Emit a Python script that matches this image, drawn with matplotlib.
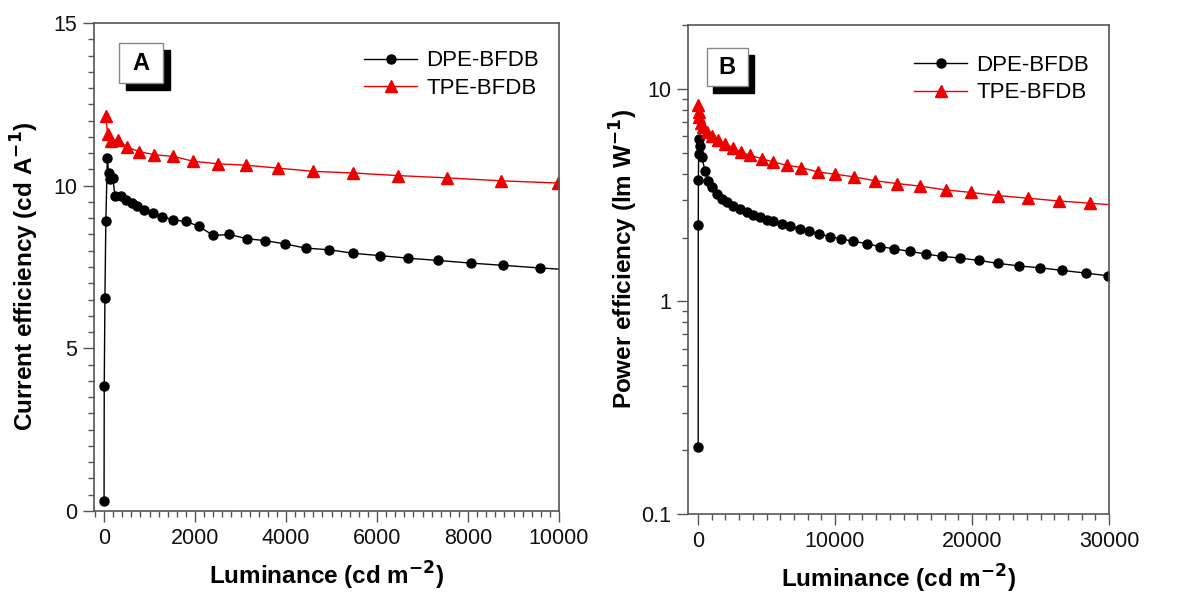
import numpy as np
import matplotlib
matplotlib.use("Agg")
import matplotlib.pyplot as plt
from matplotlib.patches import Rectangle
from matplotlib.ticker import MultipleLocator, LogLocator, FixedLocator

plt.rcParams['font.family'] = ['Liberation Sans', 'DejaVu Sans']

# ---- Panel A: current efficiency ----
a_dpe_lum = [1, 5, 20, 40, 73, 100, 140, 190, 242, 374, 484, 608, 733, 879, 1070,
             1282, 1524, 1795, 2081, 2403, 2755, 3136, 3546, 3979, 4433, 4953,
             5481, 6068, 6690, 7350, 8061, 8778, 9585, 10400]
a_dpe_ce = [0.32, 3.83, 6.56, 8.9, 10.85, 10.4, 10.2, 10.25, 9.69, 9.67, 9.57, 9.47,
            9.37, 9.25, 9.17, 9.05, 8.94, 8.91, 8.75, 8.47, 8.5, 8.37, 8.31, 8.21,
            8.08, 8.03, 7.92, 7.85, 7.77, 7.7, 7.62, 7.55, 7.47, 7.4]
a_tpe_lum = [35, 80, 147, 315, 498, 769, 1106, 1524, 1963, 2513, 3121, 3818, 4600,
             5481, 6455, 7533, 8720, 9986]
a_tpe_ce = [12.15, 11.6, 11.37, 11.4, 11.19, 11.05, 10.95, 10.9, 10.75, 10.67, 10.63,
            10.54, 10.44, 10.39, 10.31, 10.24, 10.15, 10.08]

# ---- Panel B: power efficiency ----
b_dpe_lum = [10, 15, 25, 40, 60, 120, 268, 511, 754, 998, 1363, 1728, 2093, 2579,
             3066, 3553, 4040, 4526, 5013, 5500, 6108, 6716, 7446, 8127, 8857, 9636,
             10439, 11339, 12313, 13286, 14332, 15476, 16644, 17836, 19126, 20513,
             21924, 23433, 24966, 26596, 28300, 29955]
b_dpe_pe = [0.207, 2.29, 3.74, 4.93, 5.8, 5.4, 4.77, 4.12, 3.70, 3.44, 3.20, 3.04,
            2.93, 2.82, 2.72, 2.63, 2.55, 2.49, 2.43, 2.38, 2.32, 2.26, 2.19, 2.14,
            2.08, 2.02, 1.97, 1.92, 1.87, 1.81, 1.77, 1.72, 1.67, 1.63, 1.60, 1.56,
            1.51, 1.47, 1.44, 1.40, 1.36, 1.32]
b_tpe_lum = [20, 50, 100, 200, 389, 681, 998, 1436, 1947, 2555, 3139, 3820, 4647,
             5500, 6473, 7519, 8735, 10000, 11387, 12920, 14502, 16206, 18079, 19905,
             21924, 24114, 26353, 28616, 30500]
b_tpe_pe = [8.4, 7.8, 7.35, 6.95, 6.6, 6.25, 6.02, 5.77, 5.51, 5.28, 5.04, 4.87,
            4.70, 4.53, 4.38, 4.27, 4.07, 3.97, 3.86, 3.70, 3.59, 3.49, 3.35, 3.26,
            3.15, 3.06, 2.97, 2.90, 2.84]

fig = plt.figure(figsize=(11.96, 6.01), dpi=100)
axA = fig.add_axes([0.0786, 0.1498, 0.3888, 0.8119])
axB = fig.add_axes([0.5753, 0.1448, 0.3520, 0.8136])

spine_col = '#555555'
red = '#ee0000'


def style_axis(ax):
    for s in ax.spines.values():
        s.set_color(spine_col)
        s.set_linewidth(1.2)
    ax.tick_params(which='both', direction='out', top=False, right=False,
                   color=spine_col, labelsize=15.5, width=1.0, labelcolor='#111111')
    ax.tick_params(which='major', length=8, pad=4)
    ax.tick_params(which='minor', length=4)


def label_box(ax, x0, y0, w, h, dx, dy, letter):
    ax.add_patch(Rectangle((x0 + dx, y0 - dy), w, h, transform=ax.transAxes,
                           facecolor='black', edgecolor='black', zorder=5, clip_on=False))
    ax.add_patch(Rectangle((x0, y0), w, h, transform=ax.transAxes,
                           facecolor='white', edgecolor='#888888', lw=1.0, zorder=6,
                           clip_on=False))
    ax.text(x0 + w / 2, y0 + h / 2, letter, transform=ax.transAxes, ha='center',
            va='center', fontsize=17, fontweight='bold', zorder=7)


# Panel A
axA.plot(a_dpe_lum, a_dpe_ce, '-', color='black', lw=1.0, marker='o', ms=6.5,
         mfc='black', mec='black', label='DPE-BFDB')
axA.plot(a_tpe_lum, a_tpe_ce, '-', color=red, lw=1.0, marker='^', ms=8,
         mfc=red, mec=red, label='TPE-BFDB')
axA.set_xlim(-220, 10000)
axA.set_ylim(0, 15)
axA.xaxis.set_major_locator(MultipleLocator(2000))
axA.xaxis.set_minor_locator(MultipleLocator(200))
axA.yaxis.set_major_locator(MultipleLocator(5))
axA.yaxis.set_minor_locator(MultipleLocator(0.5))
style_axis(axA)
axA.set_xlabel('Luminance (cd m$^{\\mathbf{-2}}$)', fontsize=17.5, fontweight='bold',
               labelpad=8)
axA.set_ylabel('Current efficiency (cd A$^{\\mathbf{-1}}$)', fontsize=17.5,
               fontweight='bold')
axA.yaxis.set_label_coords(-0.115, 0.48)
axA.legend(loc='upper right', bbox_to_anchor=(1.0, 0.985), frameon=False,
           fontsize=16, handlelength=2.4, handletextpad=0.4, labelspacing=0.3)
label_box(axA, 0.054, 0.877, 0.095, 0.082, 0.015, 0.0143, 'A')

# Panel B
axB.plot(b_dpe_lum, b_dpe_pe, '-', color='black', lw=1.0, marker='o', ms=6.5,
         mfc='black', mec='black', label='DPE-BFDB')
axB.plot(b_tpe_lum, b_tpe_pe, '-', color=red, lw=1.0, marker='^', ms=8,
         mfc=red, mec=red, label='TPE-BFDB')
axB.set_yscale('log')
axB.set_xlim(-730, 30000)
axB.set_ylim(0.1, 20)
axB.xaxis.set_major_locator(MultipleLocator(10000))
axB.xaxis.set_minor_locator(MultipleLocator(1000))
axB.yaxis.set_major_locator(FixedLocator([0.1, 1, 10]))
axB.yaxis.set_minor_locator(LogLocator(base=10, subs=np.arange(2, 10)))
axB.set_yticklabels(['0.1', '1', '10'])
style_axis(axB)
axB.set_xlabel('Luminance (cd m$^{\\mathbf{-2}}$)', fontsize=17.5, fontweight='bold',
               labelpad=8)
axB.set_ylabel('Power efficiency (lm W$^{\\mathbf{-1}}$)', fontsize=17.5,
               fontweight='bold')
axB.yaxis.set_label_coords(-0.114, 0.522)
axB.legend(loc='upper right', bbox_to_anchor=(1.0, 0.98), frameon=False,
           fontsize=16, handlelength=2.4, handletextpad=0.4, labelspacing=0.3)
label_box(axB, 0.045, 0.875, 0.097, 0.078, 0.014, 0.014, 'B')

fig.savefig('out.png', dpi=100)
